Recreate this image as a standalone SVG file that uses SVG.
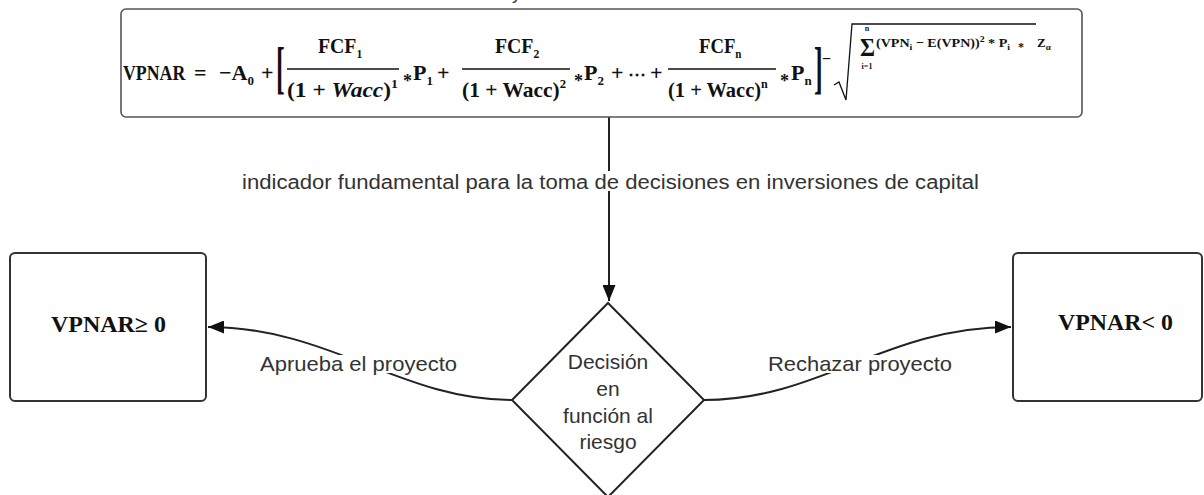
<svg xmlns="http://www.w3.org/2000/svg" width="1204" height="495" viewBox="0 0 1204 495">
<defs>
<style>
.box{fill:#fff;stroke:#333;stroke-width:2}
.fbox{fill:#fff;stroke:#555;stroke-width:1.6}
.m{font-family:"Liberation Serif",serif;font-weight:bold;fill:#111}
.s{font-size:13px}
.lbl{font-family:"Liberation Sans",Arial,sans-serif;fill:#333}
.con{fill:none;stroke:#222;stroke-width:2}
.bar{stroke:#111;stroke-width:1.4}
</style>
<marker id="arr" markerUnits="userSpaceOnUse" markerWidth="17" markerHeight="13" refX="16" refY="6.5" orient="auto">
<path d="M0,0 L16,6.5 L0,13 z" fill="#111"/>
</marker>
</defs>
<rect width="1204" height="495" fill="#fff"/>
<text class="lbl" x="512" y="-1" font-size="18">y</text>

<g id="connectors">
<line class="con" x1="609" y1="117" x2="609" y2="301" marker-end="url(#arr)"/>
<path class="con" d="M512,400 C400,400 330,327 208,327" marker-end="url(#arr)"/>
<path class="con" d="M704,400 C820,400 885,327 1011,327" marker-end="url(#arr)"/>
<rect x="240" y="171" width="742" height="20" fill="#fff"/>
<text class="lbl" x="242" y="189" font-size="20" textLength="737" lengthAdjust="spacingAndGlyphs">indicador fundamental para la toma de decisiones en inversiones de capital</text>
<rect x="258" y="355" width="201" height="18" fill="#fff"/>
<text class="lbl" x="260" y="371" font-size="21" textLength="197" lengthAdjust="spacingAndGlyphs">Aprueba el proyecto</text>
<rect x="766" y="355" width="188" height="18" fill="#fff"/>
<text class="lbl" x="768" y="371" font-size="21" textLength="184" lengthAdjust="spacingAndGlyphs">Rechazar proyecto</text>
</g>

<g id="formula">
<rect class="fbox" x="121" y="9" width="961" height="108" rx="5"/>
<text class="m" transform="translate(123,80) scale(0.81,1)" font-size="22">VPNAR</text>
<text class="m" x="194" y="80" font-size="22">=</text>
<text class="m" x="219" y="80" font-size="22">−A<tspan class="s" dy="5">0</tspan></text>
<text class="m" x="261" y="80" font-size="22">+</text>
<text class="m" transform="translate(276,87) scale(0.45,1)" font-size="58">[</text>
<!-- fraction 1 -->
<text class="m" transform="translate(318,53) scale(0.9,1)" font-size="22">FCF<tspan class="s" dy="5">1</tspan></text>
<line class="bar" x1="287" y1="69" x2="399" y2="69"/>
<text class="m" x="287" y="97" font-size="22" textLength="111" lengthAdjust="spacingAndGlyphs">(1 + <tspan font-style="italic">Wacc</tspan>)<tspan class="s" dy="-9">1</tspan></text>
<text class="m" x="403" y="87" font-size="18">*</text>
<text class="m" x="413" y="80" font-size="22">P<tspan class="s" dy="5">1</tspan></text>
<text class="m" x="437" y="80" font-size="22">+</text>
<!-- fraction 2 -->
<text class="m" transform="translate(495,53) scale(0.9,1)" font-size="22">FCF<tspan class="s" dy="5">2</tspan></text>
<line class="bar" x1="462" y1="69" x2="570" y2="69"/>
<text class="m" x="462" y="97" font-size="22" textLength="104" lengthAdjust="spacingAndGlyphs">(1 + Wacc)<tspan class="s" dy="-9">2</tspan></text>
<text class="m" x="574" y="87" font-size="18">*</text>
<text class="m" x="584" y="80" font-size="22">P<tspan class="s" dy="5">2</tspan></text>
<text class="m" x="611" y="80" font-size="22">+</text>
<text class="m" x="628" y="80" font-size="18">⋯</text>
<text class="m" x="650" y="80" font-size="22">+</text>
<!-- fraction 3 -->
<text class="m" transform="translate(699,53) scale(0.85,1)" font-size="22">FCF<tspan class="s" dy="5">n</tspan></text>
<line class="bar" x1="668" y1="69" x2="776" y2="69"/>
<text class="m" transform="translate(668,97) scale(0.93,1)" font-size="22">(1 + Wacc)<tspan class="s" dy="-9">n</tspan></text>
<text class="m" x="780" y="87" font-size="18">*</text>
<text class="m" x="791" y="80" font-size="22">P<tspan class="s" dy="5">n</tspan></text>
<text class="m" transform="translate(814,87) scale(0.45,1)" font-size="58">]</text>
<text class="m" x="822" y="64" font-size="16">−</text>
<polyline points="834,85 839,82 846,100 852,24 1036,24" fill="none" stroke="#111" stroke-width="1.3"/>
<text class="m" x="860" y="56" font-size="26" textLength="15" lengthAdjust="spacingAndGlyphs">Σ</text>
<text class="m" x="867" y="31" font-size="8" text-anchor="middle">n</text>
<text class="m" x="867" y="69" font-size="8" text-anchor="middle">i=1</text>
<text class="m" x="876" y="47" font-size="13" textLength="134" lengthAdjust="spacingAndGlyphs">(VPN<tspan font-size="9" dy="3">i</tspan><tspan dy="-3"> − E(VPN))</tspan><tspan font-size="9" dy="-5">2</tspan><tspan dy="5"> * P</tspan><tspan font-size="9" dy="3">i</tspan></text>
<text class="m" x="1018" y="51" font-size="12">*</text>
<text class="m" x="1037" y="47" font-size="13">Z<tspan font-size="9" dy="3">α</tspan></text>
</g>

<g id="node-approve">
<rect class="box" x="10" y="253" width="196" height="148" rx="5"/>
<text class="m" x="51" y="332" font-size="23" textLength="115" lengthAdjust="spacingAndGlyphs">VPNAR≥ 0</text>
</g>

<g id="node-reject">
<rect class="box" x="1013" y="253" width="189" height="148" rx="5"/>
<text class="m" x="1058" y="330" font-size="23" textLength="115" lengthAdjust="spacingAndGlyphs">VPNAR&lt; 0</text>
</g>

<g id="node-decision">
<polygon points="608,303 704,400 608,497 512,400" fill="#fff" stroke="#222" stroke-width="2"/>
<g class="lbl" font-size="21" text-anchor="middle">
<text x="608" y="369">Decisión</text>
<text x="608" y="396">en</text>
<text x="608" y="423">función al</text>
<text x="608" y="449">riesgo</text>
</g>
</g>
</svg>
